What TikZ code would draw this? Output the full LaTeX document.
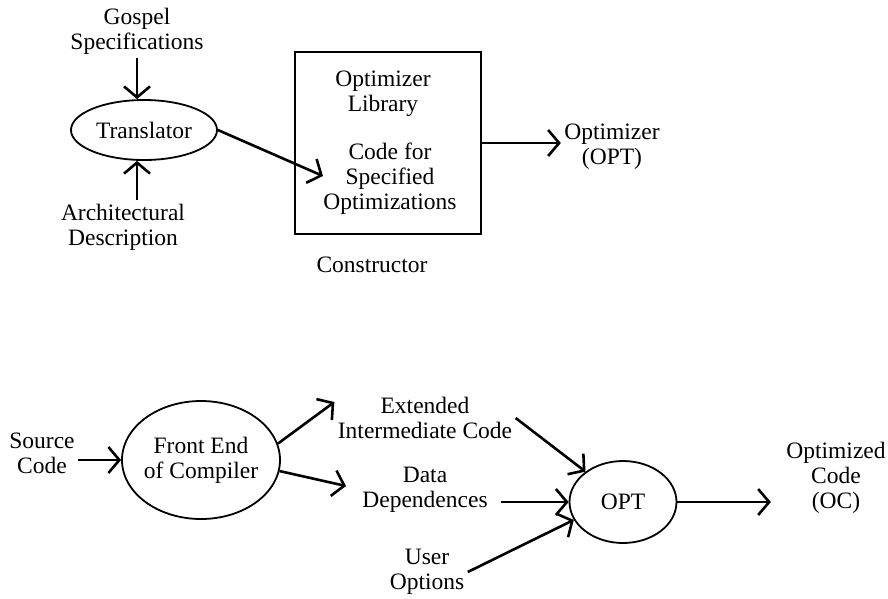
\documentclass[tikz,border=0pt]{standalone}
\usepackage{fontspec}
\setmainfont{Liberation Serif}
\usepackage{tikz}
\usetikzlibrary{arrows.meta, shapes, positioning}

\begin{document}
\begin{tikzpicture}[x=1pt, y=-1pt, every node/.style={font=\fontsize{23.5}{25}\selectfont, align=center}]
			\tikzstyle{proc}=[draw=black, ellipse, line width=1.8pt, inner sep=0pt]
			\tikzstyle{flow}=[-{Straight Barb[length=11pt,width=26pt]}, line width=2.6pt]
			
			\useasboundingbox (0,0) rectangle (888,598);
			
			% constructor: translator feeding the optimizer library
			\node (gospel) at (137,31) {Gospel\\Specifications};
			\node (trans) at (144,130) [proc, minimum width=146pt, minimum height=60pt] {Translator};
			\node (arch) at (123,227) {Architectural\\Description};
			
			\node (cons) at (388,143) [draw=black, line width=1.8pt, minimum width=186pt, minimum height=182pt] {};
			\node (lib) at (383,94) {Optimizer\\Library};
			\node (code) at (390,179) {Code for\\Specified\\Optimizations};
			\coordinate (codein) at (323,176);
			\node (cname) at (372,265) {Constructor};
			\node (optlbl) at (612,147) {Optimizer\\(OPT)};
			
			\draw [flow] (gospel.south) -- (trans.north -| gospel.south);
			\draw [flow] (arch.north -| gospel.south) -- (trans.south -| gospel.south);
			\draw [flow] (trans.east) -- (codein);
			\draw [flow] (cons.east) -- (cons.east -| optlbl.west);
			
			% compiling with the generated optimizer
			\node (src) at (42,453) {Source\\Code};
			\node (fe) at (201,460) [proc, inner xsep=-3pt, minimum width=158pt, minimum height=118pt] {Front End\\of Compiler};
			\node (ext) at (425,418) {Extended\\Intermediate Code};
			\node (data) at (425,490) {Data\\Dependences};
			\coordinate (datain) at (346,486);
			\node (user) at (427,572) {User\\Options};
			\node (opt) at (623,502) [proc, minimum width=107pt, minimum height=82pt] {OPT};
			\node (oc) at (836,478) {Optimized\\Code\\(OC)};
			
			\draw [flow] (src.east |- fe.west) -- (fe.west);
			\draw [flow] (fe.12) -- (ext.170);
			\draw [flow] (fe.-8) -- (datain);
			\draw [flow] (ext.east) -- (opt.141);
			\draw [flow] ([xshift=10pt]data.east |- opt.west) -- (opt.west);
			\draw [flow] (user.east) -- (opt.200);
			\draw [flow] (opt.east) -- ([xshift=-12pt]opt.east -| oc.west);
			\end{tikzpicture}
\end{document}
